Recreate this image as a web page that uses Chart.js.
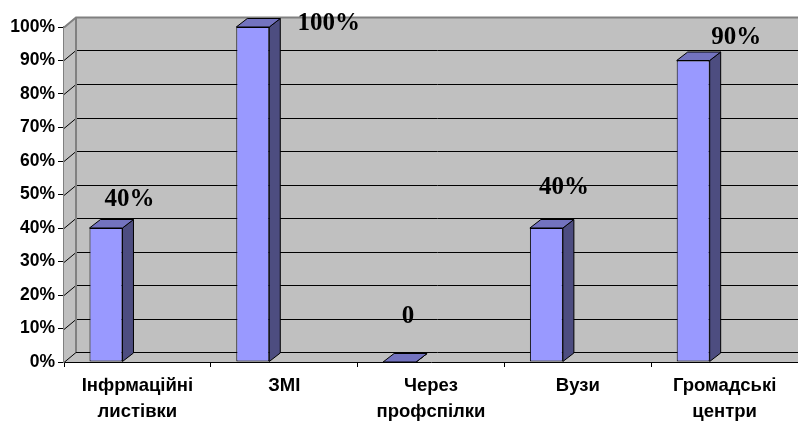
<!DOCTYPE html>
<html><head><meta charset="utf-8">
<script src="https://cdn.jsdelivr.net/npm/chart.js@4.4.0/dist/chart.umd.min.js"></script>
<style>html,body{margin:0;padding:0;background:#fff;overflow:hidden}</style>
</head><body>
<canvas id="c" width="798" height="421"></canvas>
<script>
// ---- data ----
const categories = [['Інфрмаційні','листівки'],['ЗМІ'],['Через','профспілки'],['Вузи'],['Громадські','центри']];
const values = [40, 100, 0, 40, 90];
const valueLabels = ['40%', '100%', '0', '40%', '90%'];
const yTickValues = [0, 10, 20, 30, 40, 50, 60, 70, 80, 90, 100];

// ---- style ----
const WALL_DX = 12, WALL_DY = 10;   // depth of walls
const BAR_DX = 11, BAR_DY = 8.5;    // depth of bars
const labelNudge = [[23.5,-28.5],[76,-3.5],[8.5,-45],[17.5,-40.5],[43,-22.5]];

const threeD = {
  id: 'threeD',
  beforeDatasetsDraw(chart) {
    const {ctx, chartArea: a, scales: {y}} = chart;
    const L = a.left, R = chart.width + 20, T = a.top, B = a.bottom;
    ctx.save();
    ctx.fillStyle = '#C0C0C0';
    ctx.beginPath();
    ctx.moveTo(L, B); ctx.lineTo(L, T); ctx.lineTo(L + WALL_DX, T - WALL_DY);
    ctx.lineTo(R, T - WALL_DY); ctx.lineTo(R, B); ctx.closePath(); ctx.fill();
    yTickValues.forEach(v => {
      const py = Math.round(y.getPixelForValue(v)) + 0.5;
      const top = v === yTickValues[yTickValues.length - 1];
      ctx.strokeStyle = top ? '#808080' : '#000';
      ctx.lineWidth = top ? 2 : 1;
      ctx.beginPath();
      ctx.moveTo(L, py); ctx.lineTo(L + WALL_DX, py - WALL_DY); ctx.lineTo(R, py - WALL_DY);
      ctx.stroke();
    });
    ctx.strokeStyle = '#808080'; ctx.lineWidth = 2;
    ctx.beginPath();
    ctx.moveTo(L + WALL_DX, T - WALL_DY); ctx.lineTo(L + WALL_DX, B - WALL_DY);
    ctx.stroke();
    ctx.restore();
  },
  afterDatasetsDraw(chart) {
    const {ctx} = chart;
    const meta = chart.getDatasetMeta(0);
    ctx.save();
    ctx.lineWidth = 1; ctx.strokeStyle = '#000'; ctx.lineJoin = 'miter';
    meta.data.forEach((el) => {
      const {x, y, base, width} = el.getProps(['x','y','base','width'], true);
      const l = x - width / 2, r = x + width / 2;
      ctx.fillStyle = '#4D4D80';
      ctx.beginPath();
      ctx.moveTo(r, y); ctx.lineTo(r + BAR_DX, y - BAR_DY); ctx.lineTo(r + BAR_DX, base - BAR_DY); ctx.lineTo(r, base);
      ctx.closePath(); ctx.fill(); ctx.stroke();
      ctx.fillStyle = '#7373BF';
      ctx.beginPath();
      ctx.moveTo(l, y); ctx.lineTo(l + BAR_DX, y - BAR_DY); ctx.lineTo(r + BAR_DX, y - BAR_DY); ctx.lineTo(r, y);
      ctx.closePath(); ctx.fill(); ctx.stroke();
    });
    ctx.fillStyle = '#000';
    ctx.font = 'bold 25px "Liberation Serif", "Times New Roman", serif';
    ctx.textAlign = 'center'; ctx.textBaseline = 'middle';
    meta.data.forEach((el, i) => {
      const n = labelNudge[i];
      ctx.fillText(valueLabels[i], el.x + n[0], el.y + n[1]);
    });
    ctx.restore();
  }
};

new Chart(document.getElementById('c'), {
  type: 'bar',
  data: {
    labels: categories,
    datasets: [
      { data: values, backgroundColor: '#9999FF', borderColor: '#000', borderWidth: 1, borderSkipped: false,
        barPercentage: 0.525, categoryPercentage: 0.856 },
      { data: values.map(() => null), backgroundColor: 'rgba(0,0,0,0)',
        barPercentage: 0.525, categoryPercentage: 0.856 }
    ]
  },
  options: {
    responsive: false,
    animation: false,
    layout: { padding: { top: 27, left: 0, right: 0, bottom: 0 } },
    plugins: { legend: { display: false }, tooltip: { enabled: false } },
    scales: {
      x: {
        afterFit(s) { s.height = 59; },
        grid: { offset: true, drawOnChartArea: false, tickLength: 5, color: '#000' },
        border: { color: '#000', width: 1 },
        ticks: { color: '#000', maxRotation: 0, autoSkip: false, padding: 6,
          font: { family: '"Liberation Sans", Arial, sans-serif', size: 18.5, weight: 'bold', lineHeight: 1.4 } }
      },
      y: {
        min: 0, max: 100,
        afterFit(s) { s.width = 64; },
        afterBuildTicks(s) { s.ticks = yTickValues.map(v => ({ value: v })); },
        grid: { drawOnChartArea: false, tickLength: 6, color: '#000' },
        border: { color: '#808080', width: 2 },
        ticks: { color: '#000', padding: 3, callback: v => v + '%',
          font: { family: '"Liberation Sans", Arial, sans-serif', size: 17.5, weight: 'bold' } }
      }
    }
  },
  plugins: [threeD]
});
</script>
</body></html>
